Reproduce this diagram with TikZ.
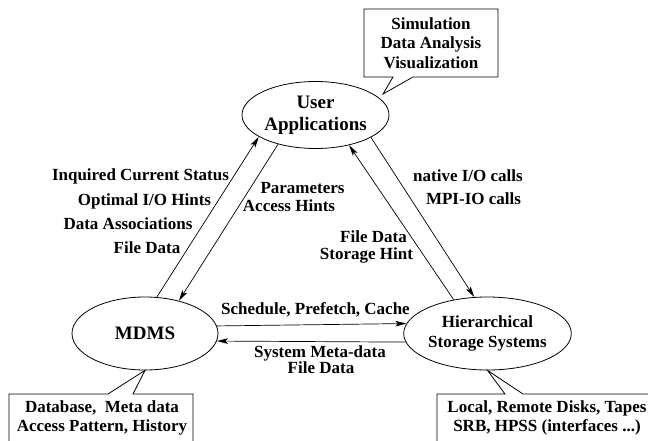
\documentclass[tikz,border=0pt]{standalone}
\usepackage{fontspec}
\setmainfont{Liberation Serif}
\usetikzlibrary{shapes.geometric, arrows.meta}

% text sizes: larger for the main components, smaller for flow labels
\newcommand\bigtxt{\fontsize{19}{22}\selectfont\bfseries}
\newcommand\smtxt{\fontsize{17}{19.5}\selectfont\bfseries}

\begin{document}
\begin{tikzpicture}[x=1pt, y=-1pt,
  oval/.style={ellipse, draw, line width=0.8pt, inner sep=0pt, align=center},
  lbl/.style={inner sep=0pt, align=center, font=\smtxt},
  flow/.style={line width=0.7pt, -{Stealth[length=11pt, width=5.5pt, inset=2.5pt]}},
  callout/.style={draw, fill=white, line width=0.8pt, line join=miter}]
\useasboundingbox (0,0) rectangle (648,441);
\clip (0,0) rectangle (648,441);

% the three components
\node[oval, minimum width=147pt, minimum height=67pt, font=\bigtxt] (ua) at (315.5,115) {User\\Applications};
\node[oval, minimum width=146pt, minimum height=73pt, font=\bigtxt] (mdms) at (145,333.5) {MDMS};
\node[oval, minimum width=148pt, minimum height=73pt, font=\smtxt] (hss) at (487.5,333.5) {Hierarchical\\Storage Systems};

% callouts describing each component
\coordinate (uatip) at (383,94);
\draw[callout] (364,77) -- (364,9) -- (498,9) -- (498,77) -- (413,77) -- (uatip) -- (393,77) -- cycle;
\node[lbl] (tools) at (431,43) {Simulation\\Data Analysis\\Visualization};

\draw[callout] (9,460) -- (9,394) -- (108,394) -- (mdms.south) -- (133,394) -- (193,394) -- (193,460) -- cycle;
\node[lbl] (store) at (102,418) {Database,~ Meta data\\Access Pattern, History};

\draw[callout] (437,460) -- (437,394) -- (505,394) -- (hss.south) -- (523,394) -- (660,394) -- (660,460) -- cycle;
\node[lbl] (media) at (547,418) {Local, Remote Disks, Tapes\\SRB, HPSS (interfaces ...)};

% information flows
\draw[flow] (mdms.72) -- (ua.201.6);
\draw[flow] (ua.218) -- (mdms.44);
\draw[flow] (hss.135) -- (ua.318.7);
\draw[flow] (ua.338) -- (hss.110);
\draw[flow] (mdms.6.8) -- (hss.173.2);
\draw[flow] (hss.186) -- (mdms.354);

% flow labels
\node[lbl, anchor=base] (inq) at (140.5,180.5) {Inquired Current Status};
\node[lbl, anchor=base] (opt) at (144.5,205.5) {Optimal I/O Hints};
\node[lbl, anchor=base] (assoc) at (128,229.5) {Data Associations};
\node[lbl, anchor=base] (fdata) at (147,253.5) {File Data};

\node[lbl, anchor=base] (params) at (302.5,193.5) {Parameters};
\node[lbl, anchor=base] (ahints) at (289,211.5) {Access Hints};

\node[lbl, anchor=base] (hfdata) at (373.5,242.5) {File Data};
\node[lbl, anchor=base] (shint) at (366.5,259.5) {Storage Hint};

\node[lbl, anchor=base] (native) at (468,181.5) {native I/O calls};
\node[lbl, anchor=base] (mpiio) at (473.5,204.5) {MPI-IO calls};

\node[lbl, anchor=base] (sched) at (315.5,314.5) {Schedule, Prefetch, Cache};
\node[lbl, anchor=base] (sysmeta) at (320,357.5) {System Meta-data};
\node[lbl, anchor=base] (bfdata) at (321,373) {File Data};
\end{tikzpicture}
\end{document}
